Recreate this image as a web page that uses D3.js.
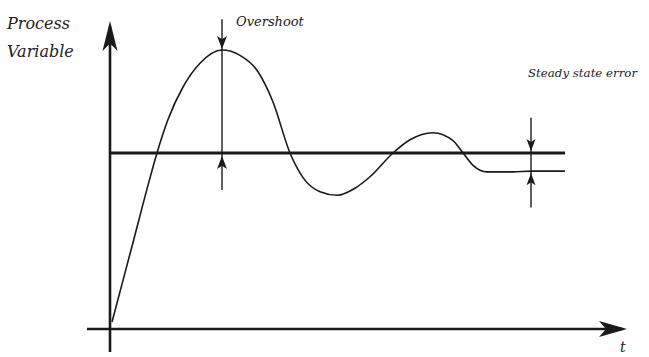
<!DOCTYPE html>
<html>
<head>
<meta charset="utf-8">
<script src="https://cdn.jsdelivr.net/npm/d3@7"></script>
<style>
  html, body { margin: 0; padding: 0; background: #fff; }
  svg { display: block; }
</style>
</head>
<body>
<div id="chart"></div>
<script>
// response curve (t in arbitrary units, PV relative to setpoint = 1)
const tValues  = [0.04, 0.44, 0.84, 0.94, 1.16, 1.46, 1.80, 2.24, 2.60, 2.94, 3.26, 3.60, 3.86, 4.20, 4.54, 4.90, 5.20, 5.66, 6.00, 6.46, 6.86, 7.06, 7.26, 7.54, 8.06, 8.42, 9.10];
const pvValues = [0.04, 0.47, 0.90, 1.00, 1.19, 1.375, 1.51, 1.585, 1.555, 1.47, 1.29, 1.00, 0.86, 0.78, 0.76, 0.80, 0.865, 1.00, 1.075, 1.115, 1.07, 1.00, 0.93, 0.893, 0.893, 0.897, 0.897];

const setpoint = 1.0;
const setpointRange = [0, 9.1];
const overshootT = 2.24;
const steadyErrorT = 8.42;
const yAxisLabel = ["Process", "Variable"];
const xAxisLabel = "t";
const overshootLabel = "Overshoot";
const steadyLabel = "Steady state error";

const width = 649, height = 357;

const x = d3.scaleLinear().domain([0, 10]).range([110, 610]);
const y = d3.scaleLinear().domain([0, 1]).range([329, 153]);

const svg = d3.select("#chart")
    .append("svg")
    .attr("width", width)
    .attr("height", height);

// stealth-like arrow head, tip at (px,py), pointing along angle (deg)
function arrowHead(px, py, angle, len, hw) {
    const notch = len * 0.25;
    svg.append("path")
        .attr("d", `M0,0 L${-len},${-hw} L${-len + notch},0 L${-len},${hw} Z`)
        .attr("transform", `translate(${px},${py}) rotate(${angle})`)
        .attr("fill", "#1a1a1a");
}

// axes
svg.append("line")
    .attr("x1", x(0)).attr("x2", x(0))
    .attr("y1", y(-0.13)).attr("y2", y(1.72))
    .attr("stroke", "#1a1a1a").attr("stroke-width", 2.6);
arrowHead(x(0), y(1.75), -90, 30, 7.5);

svg.append("line")
    .attr("x1", x(-0.46)).attr("x2", x(10.25))
    .attr("y1", y(0)).attr("y2", y(0))
    .attr("stroke", "#1a1a1a").attr("stroke-width", 2.6);
arrowHead(x(10.34), y(0), 0, 28, 8);

// setpoint line
svg.append("line")
    .attr("x1", x(setpointRange[0])).attr("x2", x(setpointRange[1]))
    .attr("y1", y(setpoint)).attr("y2", y(setpoint))
    .attr("stroke", "#1a1a1a").attr("stroke-width", 3.2);

// process response
const pts = tValues.map((t, i) => [t, pvValues[i]]);
const line = d3.line()
    .x(d => x(d[0]))
    .y(d => y(d[1]))
    .curve(d3.curveMonotoneX);

svg.append("path")
    .datum(pts)
    .attr("d", line)
    .attr("fill", "none")
    .attr("stroke", "#1a1a1a")
    .attr("stroke-width", 1.6);

// overshoot marker
const peak = d3.max(pvValues);
svg.append("line")
    .attr("x1", x(overshootT)).attr("x2", x(overshootT))
    .attr("y1", y(1.76)).attr("y2", y(0.79))
    .attr("stroke", "#1a1a1a").attr("stroke-width", 1.4);
arrowHead(x(overshootT), y(peak) - 1, 90, 13, 5);
arrowHead(x(overshootT), y(setpoint) + 3, -90, 13, 5);

svg.append("text")
    .attr("x", x(overshootT) + 14)
    .attr("y", 26)
    .attr("font-family", "DejaVu Serif")
    .attr("font-style", "italic")
    .attr("font-size", 13)
    .attr("fill", "#1a1a1a")
    .text(overshootLabel);

// steady state error marker
const finalPv = pvValues[pvValues.length - 1];
svg.append("line")
    .attr("x1", x(steadyErrorT)).attr("x2", x(steadyErrorT))
    .attr("y1", y(1.2)).attr("y2", y(0.69))
    .attr("stroke", "#1a1a1a").attr("stroke-width", 1.4);
arrowHead(x(steadyErrorT), y(setpoint) - 2, 90, 12, 4.5);
arrowHead(x(steadyErrorT), y(finalPv) + 2, -90, 12, 4.5);

svg.append("text")
    .attr("x", x(steadyErrorT) - 3)
    .attr("y", 77)
    .attr("font-family", "DejaVu Serif")
    .attr("font-style", "italic")
    .attr("font-size", 11.8)
    .attr("fill", "#1a1a1a")
    .text(steadyLabel);

// axis labels
svg.selectAll("text.ylab")
    .data(yAxisLabel)
    .enter()
    .append("text")
    .attr("class", "ylab")
    .attr("x", 7)
    .attr("y", (d, i) => 29 + i * 28)
    .attr("font-family", "DejaVu Serif")
    .attr("font-style", "italic")
    .attr("font-size", 16)
    .attr("fill", "#222")
    .text(d => d);

svg.append("text")
    .attr("x", x(10.2))
    .attr("y", 352)
    .attr("font-family", "DejaVu Serif")
    .attr("font-style", "italic")
    .attr("font-size", 14)
    .attr("fill", "#222")
    .text(xAxisLabel);
</script>
</body>
</html>
